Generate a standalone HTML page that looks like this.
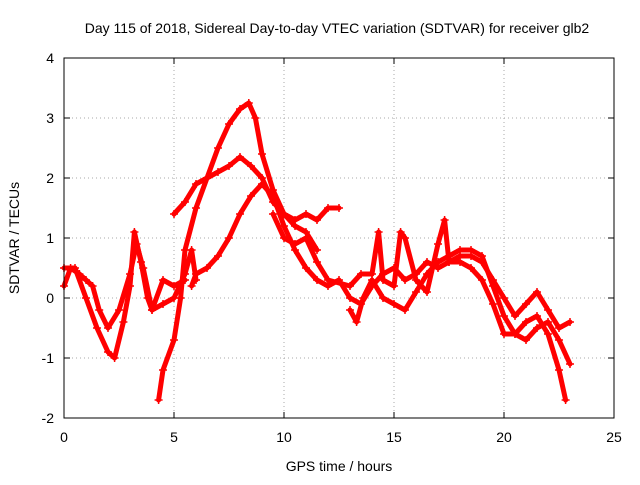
<!DOCTYPE html>
<html><head><meta charset="utf-8"><style>
body{margin:0;background:#fff;font-family:"Liberation Sans",sans-serif}
svg text{font-family:"Liberation Sans",sans-serif;font-size:14px;fill:#000}
</style></head><body>
<svg width="640" height="480" id="c">
<text x="337" y="33" text-anchor="middle">Day 115 of 2018, Sidereal Day-to-day VTEC variation (SDTVAR) for receiver glb2</text>
<text x="339" y="471" text-anchor="middle">GPS time / hours</text>
<text transform="translate(19,238) rotate(-90)" text-anchor="middle">SDTVAR / TECUs</text>
<g id="grid"></g><g id="ticks"></g><g id="series"></g>
<rect x="64" y="58" width="550" height="360" fill="none" stroke="#000"/>
</svg>
<script>
const xTicks=[0,5,10,15,20,25];
const yTicks=[-2,-1,0,1,2,3,4];
const t1=[[4.3,-1.7],[4.5,-1.2],[5,-0.7],[5.3,0],[5.5,0.8],[6,1.5],[6.5,2.0],[7,2.5],[7.5,2.9],[8,3.15],[8.4,3.25],[8.7,3.0],[9,2.4],[9.5,1.8],[10,1.4],[10.5,1.3],[11,1.4],[11.5,1.3],[12,1.5],[12.5,1.5]];
const t2=[[5,1.4],[5.5,1.6],[6,1.9],[6.5,2.0],[7,2.1],[7.5,2.2],[8,2.35],[8.5,2.2],[9,2.0],[9.5,1.6],[10,1.4],[10.5,1.2],[11,1.1],[11.5,0.8]];
const t3=[[5.8,0.2],[6,0.4],[6.5,0.5],[7,0.7],[7.5,1.0],[8,1.4],[8.5,1.7],[9,1.9],[9.5,1.7],[10,1.2],[10.5,0.8],[11,0.5],[11.5,0.3],[12,0.2],[12.5,0.3],[13,0],[13.5,-0.1],[14,0.2],[14.5,0.4],[15,0.5],[15.5,0.3],[16,0.4],[16.5,0.6],[17,0.5],[17.5,0.6],[18,0.6],[18.5,0.5],[19,0.3],[19.5,-0.1],[20,-0.6],[20.5,-0.6],[21,-0.4],[21.5,-0.3],[22,-0.6],[22.5,-1.2],[22.8,-1.7]];
const t4=[[9.5,1.4],[10,1.0],[10.5,0.9],[11,1.0],[11.5,0.6],[12,0.3],[13,0.2],[13.5,0.4],[14,0.4],[14.3,1.1],[14.5,0.3],[15,0.2],[15.3,1.1],[15.5,1.0],[16,0.3],[16.5,0.1],[17,0.9],[17.3,1.3],[17.5,0.6],[18,0.7],[18.5,0.7],[19,0.6],[19.5,0.3],[20,0],[20.5,-0.3],[21,-0.1],[21.5,0.1],[22,-0.2],[22.5,-0.5],[23,-0.4]];
const t5=[[13,-0.2],[13.3,-0.4],[13.6,0],[14,0.3],[14.5,0],[15,-0.1],[15.5,-0.2],[16,0.1],[16.5,0.4],[17,0.6],[17.5,0.7],[18,0.8],[18.5,0.8],[19,0.7],[19.5,0.2],[20,-0.3],[20.5,-0.6],[21,-0.7],[21.5,-0.5],[22,-0.4],[22.5,-0.7],[23,-1.1]];
const t6=[[0,0.2],[0.3,0.5],[0.7,0.4],[1,0.3],[1.3,0.2],[1.6,-0.2],[2,-0.5],[2.5,-0.2],[3,0.4],[3.3,0.9],[3.6,0.5],[4,-0.2],[4.5,-0.1],[5,0],[5.5,0.4],[5.8,0.8],[6,0.3]];
const t7=[[0,0.5],[0.5,0.5],[1,0],[1.5,-0.5],[2,-0.9],[2.3,-1.0],[2.7,-0.4],[3,0.2],[3.2,1.1],[3.5,0.6],[3.8,0],[4,-0.2],[4.5,0.3],[5,0.2],[5.5,0.3]];
const allSeries=[t1,t2,t3,t4,t5,t6,t7];
const NS="http://www.w3.org/2000/svg";
const X=v=>64+v*22, Y=v=>298-v*60;
const grid=document.getElementById('grid'),ticks=document.getElementById('ticks'),ser=document.getElementById('series');
function mk(tag,a,p){const e=document.createElementNS(NS,tag);for(const k in a)e.setAttribute(k,a[k]);p.appendChild(e);return e;}
xTicks.forEach(v=>{
 if(v>0&&v<25){const g=mk('line',{x1:X(v),x2:X(v),y1:58,y2:418,stroke:'#aaa','stroke-dasharray':'1,3'},grid);
 
 }
 const tm=mk('path',{d:`M${X(v)},418v-6M${X(v)},58v6`,stroke:'#000'},ticks);
 
 
 const t=mk('text',{x:X(v),y:442,'text-anchor':'middle'},ticks);t.textContent=v;
 
 
});
yTicks.forEach(v=>{
 if(v>-2&&v<4){const g=mk('line',{x1:64,x2:614,y1:Y(v),y2:Y(v),stroke:'#aaa','stroke-dasharray':'1,3'},grid);
 
 }
 const tm=mk('path',{d:`M64,${Y(v)}h6M614,${Y(v)}h-6`,stroke:'#000'},ticks);
 
 
 const t=mk('text',{x:54,y:Y(v)+5,'text-anchor':'end'},ticks);t.textContent=v;
 
 
});
allSeries.forEach((s,i)=>{
 const pl=mk('polyline',{points:s.map(p=>X(p[0])+','+Y(p[1])).join(' '),fill:'none',stroke:'#f00','stroke-width':5,'stroke-linejoin':'round','stroke-linecap':'round'},ser);
 
 
 s.forEach(p=>{
  const m=mk('path',{d:`M${X(p[0])-4},${Y(p[1])}h8M${X(p[0])},${Y(p[1])-4}v8`,stroke:'#f00','stroke-width':1.5},ser);
  
  
 });
});
</script>
</body></html>
